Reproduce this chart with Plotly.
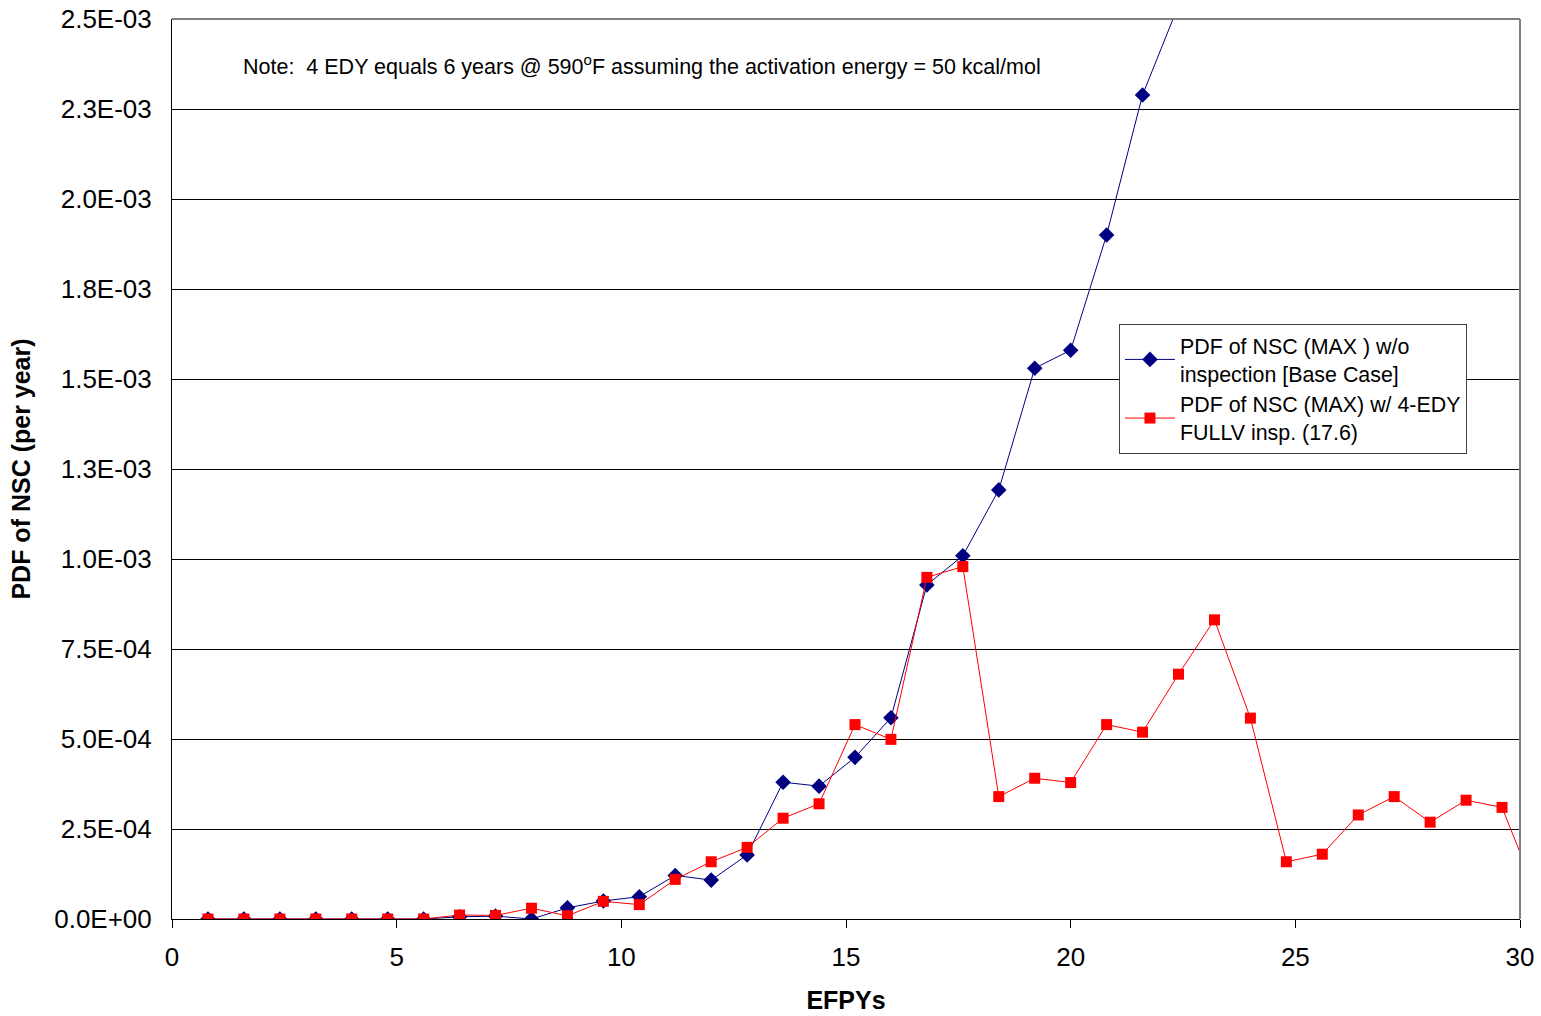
import plotly.graph_objects as go

efpy_blue = [0.8, 1.6, 2.4, 3.2, 4.0, 4.8, 5.6, 6.4, 7.2, 8.0, 8.8, 9.6, 10.4, 11.2, 12.0, 12.8,
             13.6, 14.4, 15.2, 16.0, 16.8, 17.6, 18.4, 19.2, 20.0, 20.8, 21.6, 22.4]
pdf_blue = [0, 0, 0, 0, 0, 0, 0, 0.6e-5, 0.8e-5, 0.0, 3.1e-5, 5.0e-5, 6.2e-5, 1.21e-4, 1.08e-4, 1.78e-4,
            3.80e-4, 3.69e-4, 4.49e-4, 5.59e-4, 9.28e-4, 1.009e-3, 1.192e-3, 1.530e-3, 1.580e-3, 1.900e-3,
            2.289e-3, 2.538e-3]

efpy_red = [0.8, 1.6, 2.4, 3.2, 4.0, 4.8, 5.6, 6.4, 7.2, 8.0, 8.8, 9.6, 10.4, 11.2, 12.0, 12.8,
            13.6, 14.4, 15.2, 16.0, 16.8, 17.6, 18.4, 19.2, 20.0, 20.8, 21.6, 22.4, 23.2, 24.0,
            24.8, 25.6, 26.4, 27.2, 28.0, 28.8, 29.6, 30.4]
pdf_red = [0, 0, 0, 0, 0, 0, 0, 1.1e-5, 1.0e-5, 3.0e-5, 0.9e-5, 4.9e-5, 4.0e-5, 1.10e-4, 1.59e-4, 1.99e-4,
           2.80e-4, 3.20e-4, 5.40e-4, 4.99e-4, 9.49e-4, 9.79e-4, 3.40e-4, 3.91e-4, 3.79e-4, 5.40e-4,
           5.19e-4, 6.80e-4, 8.31e-4, 5.58e-4, 1.59e-4, 1.80e-4, 2.89e-4, 3.40e-4, 2.69e-4, 3.30e-4,
           3.10e-4, 0.60e-4]

y_tickvals = [0, 2.5e-4, 5.0e-4, 7.5e-4, 1.0e-3, 1.25e-3, 1.5e-3, 1.75e-3, 2.0e-3, 2.25e-3, 2.5e-3]
y_ticktext = ["0.0E+00", "2.5E-04", "5.0E-04", "7.5E-04", "1.0E-03", "1.3E-03", "1.5E-03",
              "1.8E-03", "2.0E-03", "2.3E-03", "2.5E-03"]
x_tickvals = [0, 5, 10, 15, 20, 25, 30]

FONT = "Arial, Liberation Sans, sans-serif"

fig = go.Figure()
fig.add_trace(go.Scatter(
    x=efpy_blue, y=pdf_blue, mode="lines+markers",
    name="PDF of NSC (MAX ) w/o<br>inspection [Base Case]",
    legendgroup="a",
    line=dict(color="#000080", width=1),
    marker=dict(symbol="diamond", size=12, color="#000080"),
))
fig.add_trace(go.Scatter(
    x=efpy_red, y=pdf_red, mode="lines+markers",
    name="PDF of NSC (MAX) w/ 4-EDY<br>FULLV insp. (17.6)",
    legendgroup="b",
    line=dict(color="#FF0000", width=1),
    marker=dict(symbol="square", size=11, color="#FF0000"),
))

fig.update_layout(
    width=1541, height=1016,
    margin=dict(l=172, r=21, t=19, b=97),
    paper_bgcolor="white", plot_bgcolor="white",
    font=dict(family=FONT, color="black", size=26),
    showlegend=True,
    legend=dict(
        x=0.7025, y=0.661, xanchor="left", yanchor="top",
        bordercolor="#404040", borderwidth=1, bgcolor="white",
        font=dict(size=21.4, family=FONT),
        itemwidth=50, traceorder="grouped", tracegroupgap=0,
    ),
    xaxis=dict(
        range=[0, 30], tickvals=x_tickvals, showgrid=False, zeroline=False,
        showline=True, linecolor="black", linewidth=1, automargin=False,
        ticks="outside", ticklen=8, tickcolor="black",
        tickfont=dict(size=26), ticklabelstandoff=7, ticklabeloverflow="allow",
        title=dict(text="<b>EFPYs</b>", font=dict(size=25), standoff=20),
    ),
    yaxis=dict(
        range=[0, 2.5e-3], tickvals=y_tickvals, ticktext=y_ticktext,
        showgrid=True, gridcolor="black", gridwidth=1, zeroline=False,
        showline=True, linecolor="black", linewidth=1, automargin=False,
        ticks="inside", ticklen=8, tickcolor="black",
        tickfont=dict(size=26), ticklabelstandoff=14, ticklabeloverflow="allow",
        title=dict(text="<b>PDF of NSC (per year)</b>", font=dict(size=25), standoff=16),
    ),
    annotations=[dict(
        x=0.0512, y=0.949, xref="paper", yref="paper", xanchor="left", yanchor="middle",
        text="Note:  4 EDY equals 6 years @ 590<sup>o</sup>F assuming the activation energy = 50 kcal/mol",
        showarrow=False, font=dict(size=21.5, family=FONT),
    )],
    shapes=[
        dict(type="line", xref="paper", yref="paper", x0=0, x1=1, y0=1, y1=1,
             line=dict(color="#808080", width=2)),
        dict(type="line", xref="paper", yref="paper", x0=1, x1=1, y0=0, y1=1,
             line=dict(color="#808080", width=2)),
    ],
)

# remove the default 8px page margin so the figure fills the window exactly
fig.write_html("out.html", config={"displayModeBar": False},
               post_script="document.body.style.margin='0';")
